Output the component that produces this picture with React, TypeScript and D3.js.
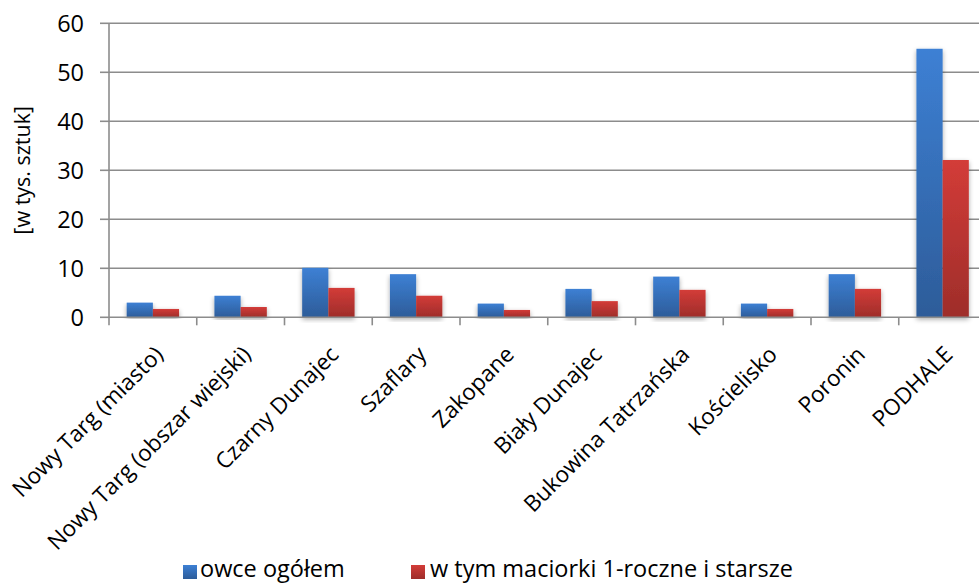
import React from "react";
import * as d3 from "d3";

const categories = [
  "Nowy Targ (miasto)",
  "Nowy Targ (obszar wiejski)",
  "Czarny Dunajec",
  "Szaflary",
  "Zakopane",
  "Biały Dunajec",
  "Bukowina Tatrzańska",
  "Kościelisko",
  "Poronin",
  "PODHALE",
];
const owce = [3.0, 4.4, 10.1, 8.8, 2.8, 5.8, 8.3, 2.8, 8.8, 54.8];
const maciorki = [1.7, 2.1, 6.0, 4.4, 1.5, 3.3, 5.6, 1.7, 5.8, 32.1];
const yTicks = [0, 10, 20, 30, 40, 50, 60];
const seriesNames = ["owce ogółem", "w tym maciorki 1-roczne i starsze"];

const W = 979;
const H = 583;
const left = 109;
const right = 986.5;
const top = 23.3;
const bottom = 317.3;
const FONT = "Open Sans, Lato, sans-serif";
const FS = 23.5;
const FSX = 22.5;

export default function App() {
  const x = d3.scaleBand<string>().domain(categories).range([left, right]).paddingInner(0).paddingOuter(0);
  const y = d3.scaleLinear().domain([0, 60]).range([bottom, top]);
  const bw = x.bandwidth() / 3.35;
  const gridColor = "#8c8c8c";
  return (
    <svg width={W} height={H} style={{ position: "absolute", left: 0, top: 0, background: "#fff" }}>
      <defs>
        <linearGradient id="gBlue" x1="0" y1="0" x2="0" y2="1">
          <stop offset="0" stopColor="#3d80d4" />
          <stop offset="1" stopColor="#2d5c99" />
        </linearGradient>
        <linearGradient id="gRed" x1="0" y1="0" x2="0" y2="1">
          <stop offset="0" stopColor="#d33c38" />
          <stop offset="1" stopColor="#9e2d2a" />
        </linearGradient>
        <filter id="shadow" x="-20%" y="-5%" width="140%" height="115%">
          <feGaussianBlur in="SourceAlpha" stdDeviation="2.5" />
          <feOffset dx="0" dy="2" result="b" />
          <feComponentTransfer>
            <feFuncA type="linear" slope="0.35" />
          </feComponentTransfer>
          <feMerge>
            <feMergeNode />
            <feMergeNode in="SourceGraphic" />
          </feMerge>
        </filter>
      </defs>
      {yTicks.map((t) => (
        <g key={t}>
          {t > 0 && <line x1={left} x2={W} y1={y(t)} y2={y(t)} stroke={gridColor} strokeWidth={1.6} />}
          <line x1={left - 9} x2={left} y1={y(t)} y2={y(t)} stroke={gridColor} strokeWidth={1.6} />
          <text x={84} y={y(t)} dy="0.36em" textAnchor="end" fontFamily={FONT} fontSize={FS} fill="#000">
            {t}
          </text>
        </g>
      ))}
      <text
        transform={`translate(22, ${(top + bottom) / 2}) rotate(-90)`}
        textAnchor="middle"
        dy="0.35em"
        fontFamily={FONT}
        fontSize={21.5}
        fill="#000"
      >
        [w tys. sztuk]
      </text>
      {categories.map((c, i) => {
        const x0 = (x(c) as number) + (x.bandwidth() - 2 * bw) / 2;
        return (
          <g key={c} filter="url(#shadow)">
            <rect x={x0} y={y(owce[i])} width={bw} height={bottom - y(owce[i])} fill="url(#gBlue)" />
            <rect x={x0 + bw} y={y(maciorki[i])} width={bw} height={bottom - y(maciorki[i])} fill="url(#gRed)" />
          </g>
        );
      })}
      <line x1={left} x2={left} y1={top} y2={bottom} stroke={gridColor} strokeWidth={1.6} />
      <line x1={left} x2={W} y1={bottom} y2={bottom} stroke={gridColor} strokeWidth={1.6} />
      {categories.map((c) => (
        <line
          key={"t" + c}
          x1={x(c) as number}
          x2={x(c) as number}
          y1={bottom}
          y2={bottom + 8}
          stroke={gridColor}
          strokeWidth={1.6}
        />
      ))}
      {categories.map((c) => {
        const cx = (x(c) as number) + x.bandwidth() / 2;
        return (
          <text
            key={"l" + c}
            transform={`translate(${cx + 6}, ${bottom + 33}) rotate(-45)`}
            textAnchor="end"
            dy="0.35em"
            fontFamily={FONT}
            fontSize={FSX}
            fill="#000"
          >
            {c}
          </text>
        );
      })}
      <g>
        <rect x={183} y={565} width={14} height={14} fill="url(#gBlue)" />
        <text x={200} y={577} fontFamily={FONT} fontSize={FS} fill="#000">
          {seriesNames[0]}
        </text>
        <rect x={411} y={565} width={14} height={14} fill="url(#gRed)" />
        <text x={430} y={577} fontFamily={FONT} fontSize={FS} fill="#000">
          {seriesNames[1]}
        </text>
      </g>
    </svg>
  );
}
